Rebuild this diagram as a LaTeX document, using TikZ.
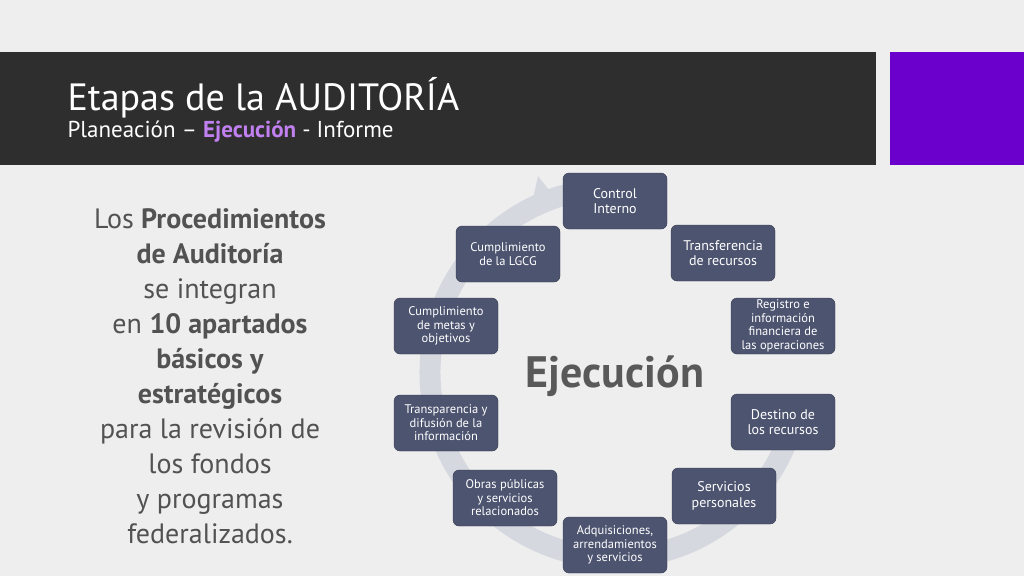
\documentclass[tikz,border=0pt]{standalone}
\usepackage{fontspec}
\setmainfont{PT Sans}
\usetikzlibrary{arrows.meta}
\definecolor{bg}{HTML}{EEEEEE}
\definecolor{bar}{HTML}{2E2E2E}
\definecolor{purp}{HTML}{6B00CC}
\definecolor{lila}{HTML}{C080F0}
\definecolor{boxc}{HTML}{4D5470}
\definecolor{ring}{HTML}{D6D8E0}
\tikzset{stage/.style={draw=boxc!70!black, fill=boxc, rounded corners=6pt, minimum width=104pt, minimum height=56pt, text=white, align=center, font=\fontsize{14}{15.5}\selectfont, inner sep=1pt},
stagesm/.style={stage, font=\fontsize{12.5}{13.5}\selectfont}}
\begin{document}
\begin{tikzpicture}[x=1pt,y=-1pt]
\useasboundingbox (0,0) rectangle (1024,576);
\fill[bg] (0,0) rectangle (1024,576);
\fill[bar] (0,52) rectangle (876,165);
\fill[purp] (890,52) rectangle (1024,165);
\node[anchor=base west, text=white, font=\fontsize{38}{40}\selectfont] (title) at (64,110) {Etapas de la AUDITORÍA};
\node[anchor=base west, text=white, font=\fontsize{23}{26}\selectfont] (sub) at (64,137) {Planeación – \textcolor{lila}{\textbf{Ejecución}} - Informe};
\node[align=center, text=black!68, font=\fontsize{28}{35}\selectfont] (left) at (210,376) {Los \textbf{Procedimientos}\\\textbf{de Auditoría}\\se integran\\en \textbf{10 apartados}\\\textbf{básicos y}\\\textbf{estratégicos}\\para la revisión de\\los fondos\\y programas\\federalizados.};
% ring
\draw[ring, line width=21pt] (615,373) ++(-100:185) arc[start angle=-100, end angle=-340, radius=185];
\fill[ring] (538,176) -- (556,199) -- (530,212) -- cycle;
\node[font=\fontsize{44}{46}\selectfont\bfseries, text=black!65] (ej) at (615,376) {Ejecución};
\node[stage] (a) at (615,201) {Control\\Interno};
\node[stage] (b) at (723,253) {Transferencia\\de recursos};
\node[stagesm] (c) at (783,326) {Registro e\\información\\financiera de\\las operaciones};
\node[stage] (d) at (783,422) {Destino de\\los recursos};
\node[stage] (e) at (724,496) {Servicios\\personales};
\node[stagesm] (f) at (615,545) {Adquisiciones,\\arrendamientos\\y servicios};
\node[stagesm] (g) at (505,498) {Obras públicas\\y servicios\\relacionados};
\node[stagesm] (h) at (446,423) {Transparencia y\\difusión de la\\información};
\node[stagesm] (i) at (446,326) {Cumplimiento\\de metas y\\objetivos};
\node[stagesm] (j) at (508,254) {Cumplimiento\\de la LGCG};
\end{tikzpicture}
\end{document}
